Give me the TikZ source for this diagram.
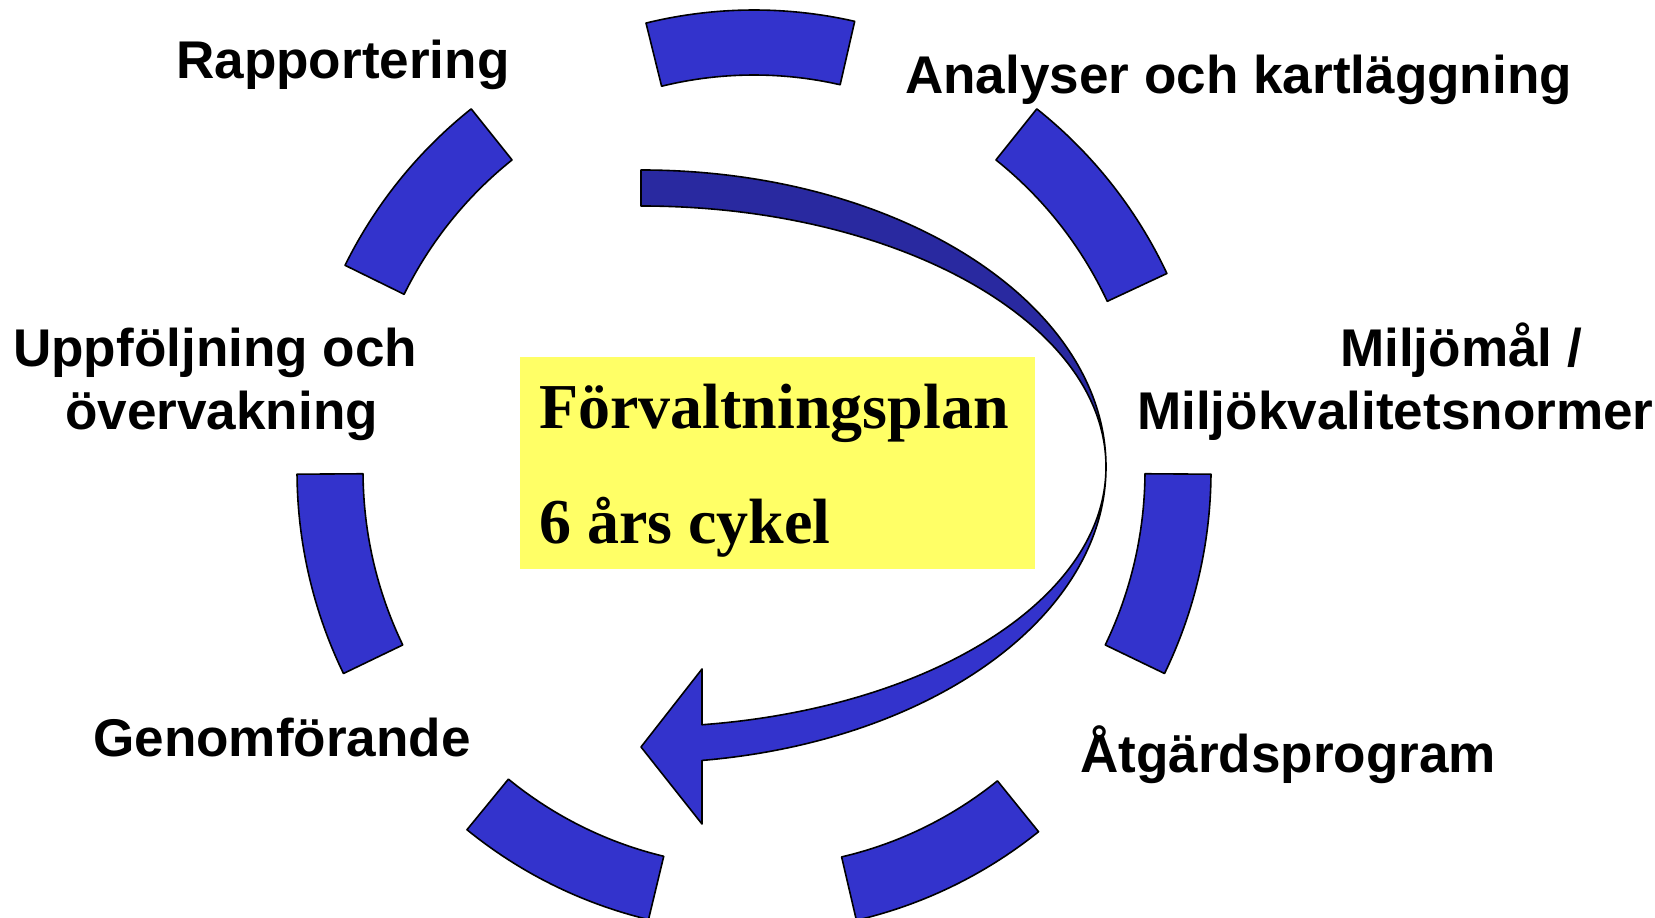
\documentclass[tikz,border=0pt]{standalone}
\usepackage{fontspec}
\setmainfont{Liberation Serif}
\setsansfont{Liberation Sans}
\definecolor{segblue}{RGB}{51,51,204}
\definecolor{backblue}{RGB}{41,41,160}
\definecolor{boxyellow}{RGB}{255,255,102}
\begin{document}
\begin{tikzpicture}[x=1pt,y=1pt,
  seg/.style={fill=segblue,draw=black,line width=1.6,line join=round},
  lbl/.style={anchor=base west,inner sep=0,font=\sffamily\bfseries\fontsize{53.1}{63}\selectfont},
  boxtxt/.style={anchor=base west,inner sep=0,font=\rmfamily\bfseries\fontsize{64}{76}\selectfont}]
\fill[white] (0,0) rectangle (1655,918);
\useasboundingbox (0,0) rectangle (1655,918);
% ring of seven segments (start angle / end angle)
\begin{scope}[shift={(754,447)}]
\foreach \ca/\cb in {103.67/77.27, 51.77/25.37, -0.4/-26.06, -51.49/-77.05, -103.35/-128.91, -153.94/-179.6, 153.5/128.23}{
  \draw[seg] ({457*cos(\ca)},{461*sin(\ca)})
     arc[start angle=\ca, end angle=\cb, x radius=457, y radius=461]
     -- ({391*cos(\cb)},{396*sin(\cb)})
     arc[start angle=\cb, end angle=\ca, x radius=391, y radius=396] -- cycle;
}
\end{scope}
% yellow box
\node[fill=boxyellow,inner sep=0,minimum width=515,minimum height=212,anchor=south west] (box) at (520,349) {};
\node[boxtxt] (plan) at (539,489) {Förvaltningsplan};
\node[boxtxt] (cykel) at (539,374) {6 års cykel};
% curved arrow: back face (top) and front face (bottom)
\draw[fill=backblue,draw=black,line width=1.6,line join=round]
  (641,748) arc[start angle=90, end angle=0, x radius=465, y radius=297]
  arc[start angle=0, end angle=90, x radius=465, y radius=261] -- cycle;
\draw[seg]
  (702,193.25) arc[start angle=-82.46, end angle=0, x radius=465, y radius=260]
  arc[start angle=0, end angle=-82.46, x radius=465, y radius=296]
  -- (702,94) -- (641,171) -- (702,249) -- cycle;
% labels
\node[lbl] (rapp) at (176,839) {Rapportering};
\node[lbl] (anal) at (905,824.5) {Analyser och kartläggning};
\node[lbl] (milj1) at (1340,551) {Miljömål /};
\node[lbl] (milj2) at (1137,488) {Miljökvalitetsnormer};
\node[lbl] (uppf1) at (13,551) {Uppföljning och};
\node[lbl] (uppf2) at (65,488) {övervakning};
\node[lbl] (genom) at (93,161) {Genomförande};
\node[lbl] (atg) at (1080,145) {Åtgärdsprogram};
\end{tikzpicture}
\end{document}
